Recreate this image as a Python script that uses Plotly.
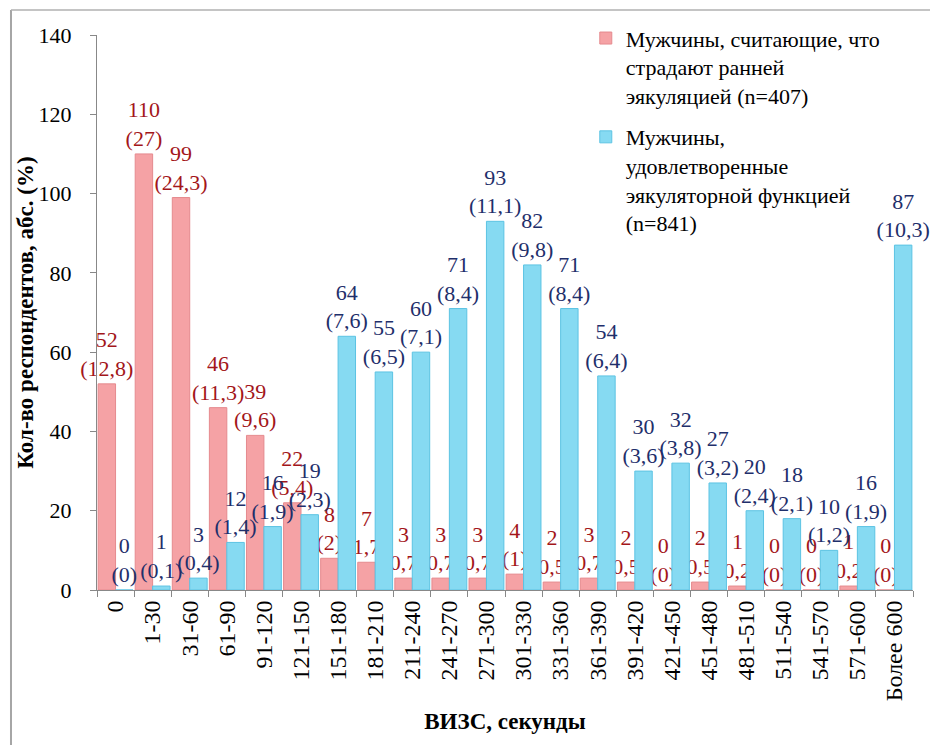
import plotly.graph_objects as go

categories = ["0", "1-30", "31-60", "61-90", "91-120", "121-150", "151-180", "181-210",
              "211-240", "241-270", "271-300", "301-330", "331-360", "361-390", "391-420",
              "421-450", "451-480", "481-510", "511-540", "541-570", "571-600", "Более 600"]

pe_counts = [52, 110, 99, 46, 39, 22, 8, 7, 3, 3, 3, 4, 2, 3, 2, 0, 2, 1, 0, 0, 1, 0]
pe_pct = ["12,8", "27", "24,3", "11,3", "9,6", "5,4", "2", "1,7", "0,7", "0,7", "0,7", "1",
          "0,5", "0,7", "0,5", "0", "0,5", "0,2", "0", "0", "0,2", "0"]

ok_counts = [0, 1, 3, 12, 16, 19, 64, 55, 60, 71, 93, 82, 71, 54, 30, 32, 27, 20, 18, 10, 16, 87]
ok_pct = ["0", "0,1", "0,4", "1,4", "1,9", "2,3", "7,6", "6,5", "7,1", "8,4", "11,1", "9,8",
          "8,4", "6,4", "3,6", "3,8", "3,2", "2,4", "2,1", "1,2", "1,9", "10,3"]

y_ticks = [0, 20, 40, 60, 80, 100, 120, 140]

name_pe = "Мужчины, считающие, что<br>страдают ранней<br>эякуляцией (n=407)"
name_ok = "Мужчины,<br>удовлетворенные<br>эякуляторной функцией<br>(n=841)"
x_title = "ВИЗС, секунды"
y_title = "Кол-во респондентов, абс. (%)"

FONT = "Liberation Serif, serif"

fig = go.Figure()
fig.add_bar(
    x=categories, y=pe_counts, name=name_pe, legendgroup="a",
    marker=dict(color="#F5A2A5", line=dict(color="#E58A8E", width=1)),
    text=[f"{v}<br>({p})" for v, p in zip(pe_counts, pe_pct)],
    textposition="outside", textangle=0, constraintext="none", cliponaxis=False,
    textfont=dict(family=FONT, size=22, color="#A3161A"),
    hoverinfo="skip",
)
fig.add_bar(
    x=categories, y=ok_counts, name=name_ok, legendgroup="b",
    marker=dict(color="#86DAF2", line=dict(color="#5CC3E3", width=1)),
    text=[f"{v}<br>({p})" for v, p in zip(ok_counts, ok_pct)],
    textposition="outside", textangle=0, constraintext="none", cliponaxis=False,
    textfont=dict(family=FONT, size=22, color="#1F2F6B"),
    hoverinfo="skip",
)

fig.update_layout(
    width=922, height=737,
    margin=dict(l=89, r=17, t=27, b=155, autoexpand=False),
    paper_bgcolor="white", plot_bgcolor="white",
    font=dict(family=FONT, size=22, color="black"),
    barmode="group", bargap=0.06, bargroupgap=0,
    showlegend=True,
    legend=dict(
        x=0.599, y=1.032, xanchor="left", yanchor="top",
        bgcolor="rgba(0,0,0,0)", font=dict(family=FONT, size=22, color="black"),
        tracegroupgap=10, valign="top", itemwidth=30,
    ),
    xaxis=dict(
        type="category", tickangle=-90, tickson="boundaries",
        ticks="outside", ticklen=6, tickcolor="#888888",
        showline=True, linecolor="#888888", linewidth=1, showgrid=False,
        tickfont=dict(family=FONT, size=24, color="black"),
        title=dict(text=f"<b>{x_title}</b>", font=dict(family=FONT, size=23), standoff=12),
    ),
    yaxis=dict(
        range=[0, 140], tickvals=y_ticks,
        ticks="outside", ticklen=6, tickcolor="#888888",
        showline=True, linecolor="#888888", linewidth=1, showgrid=False, zeroline=False,
        tickfont=dict(family=FONT, size=22, color="black"), ticklabelstandoff=14,
    ),
    annotations=[
        dict(text=f"<b>{y_title}</b>", xref="paper", yref="paper", x=-0.088, y=0.5,
             xanchor="center", yanchor="middle", textangle=-90, showarrow=False,
             font=dict(family=FONT, size=23, color="black")),
    ],
    shapes=[
        dict(type="line", xref="paper", yref="paper", x0=-0.1054, x1=-0.1054, y0=-0.3, y1=1.045,
             line=dict(color="#A6A6A6", width=2)),
        dict(type="line", xref="paper", yref="paper", x0=-0.1054, x1=1.05, y0=1.045, y1=1.045,
             line=dict(color="#B0B0B0", width=1.5)),
    ],
)

fig.write_html("out.html")
